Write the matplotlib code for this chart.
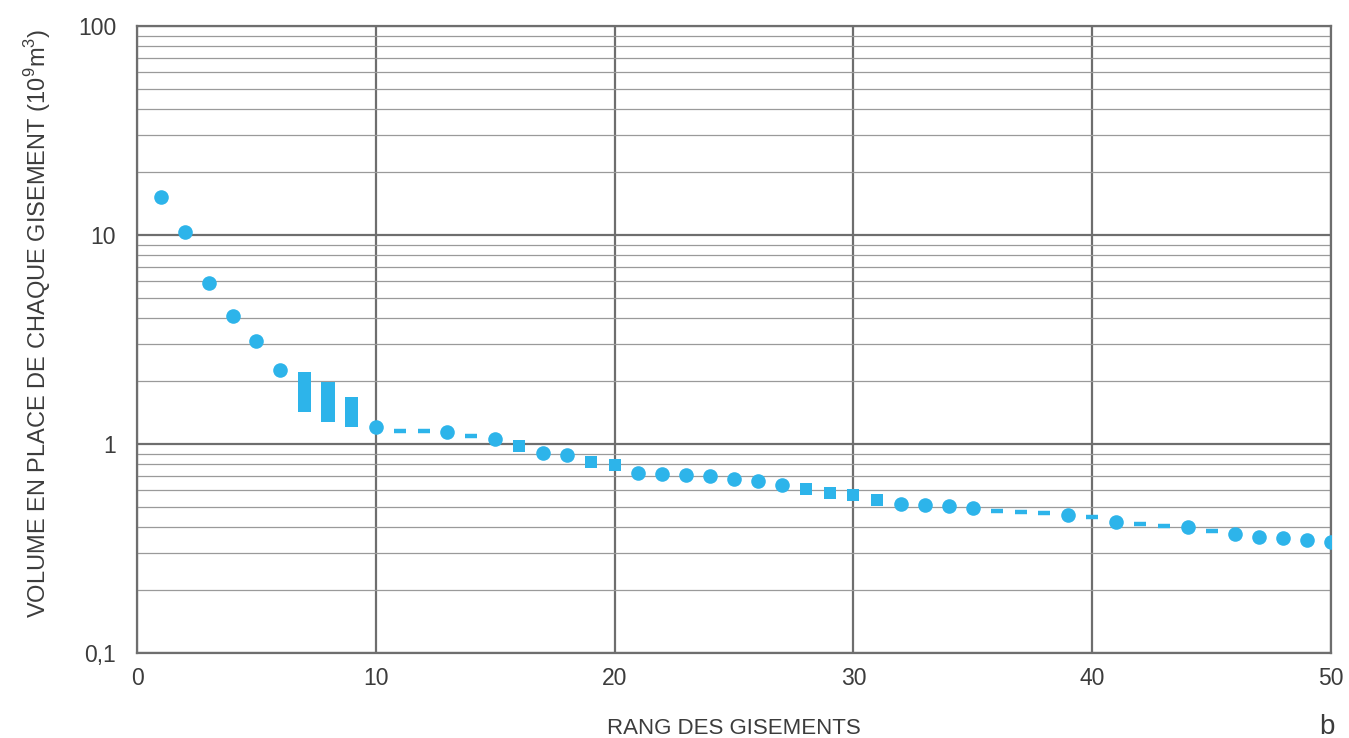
import matplotlib
matplotlib.use('Agg')
import matplotlib.pyplot as plt
from matplotlib.ticker import FixedLocator, LogLocator, NullFormatter

# police proche de l'original (Helvetica)
plt.rcParams['font.family'] = ['Liberation Sans', 'DejaVu Sans']
plt.rcParams['mathtext.fontset'] = 'custom'
plt.rcParams['mathtext.rm'] = 'Liberation Sans'

# gisements connus (ronds)
rang_ronds = [1, 2, 3, 4, 5, 6, 10, 13, 15, 17, 18, 21, 22, 23, 24, 25, 26, 27,
              32, 33, 34, 35, 39, 41, 44, 46, 47, 48, 49, 50]
vol_ronds = [15.2, 10.3, 5.9, 4.1, 3.1, 2.26, 1.2, 1.14, 1.06, 0.91, 0.89, 0.73,
             0.72, 0.71, 0.705, 0.68, 0.665, 0.64, 0.515, 0.51, 0.505, 0.496,
             0.456, 0.424, 0.40, 0.37, 0.357, 0.356, 0.347, 0.338]

# carrés
rang_carres = [16, 19, 20, 28, 29, 30, 31]
vol_carres = [0.98, 0.82, 0.79, 0.61, 0.585, 0.57, 0.54]

# tirets
rang_tirets = [11, 12, 14, 36, 37, 38, 40, 42, 43, 45]
vol_tirets = [1.16, 1.15, 1.09, 0.476, 0.471, 0.468, 0.445, 0.413, 0.407, 0.384]

# fourchettes (barres)
rang_barres = [7, 8, 9]
vol_bas = [1.43, 1.28, 1.2]
vol_haut = [2.2, 1.98, 1.67]

bleu = '#2db4ea'
gris = '#6e6e6e'
texte = '#3c3c3c'

fig = plt.figure(figsize=(13.49, 7.38), dpi=100)
ax = fig.add_axes([137/1349, 1 - 653/738, (1331-137)/1349, (653-26)/738])

ax.set_yscale('log')
ax.set_xlim(0, 50)
ax.set_ylim(0.1, 100)

# grille
ax.yaxis.set_major_locator(FixedLocator([0.1, 1, 10, 100]))
ax.yaxis.set_minor_locator(LogLocator(base=10, subs=range(2, 10)))
ax.yaxis.set_minor_formatter(NullFormatter())
ax.set_yticklabels(['0,1', '1', '10', '100'])
ax.set_xticks([0, 10, 20, 30, 40, 50])
ax.grid(True, which='major', axis='both', color=gris, linewidth=1.6)
ax.grid(True, which='minor', axis='y', color='#9a9a9a', linewidth=0.9)
ax.set_axisbelow(True)

ax.tick_params(which='both', length=0, labelsize=16.5, colors=texte)
ax.tick_params(axis='y', pad=15)
ax.tick_params(axis='x', pad=10)
for s in ax.spines.values():
    s.set_color(gris)
    s.set_linewidth(1.6)

# données
heights = [h - b for h, b in zip(vol_haut, vol_bas)]
ax.bar(rang_barres, heights, bottom=vol_bas, width=0.55, color=bleu, zorder=3)
ax.plot(rang_ronds, vol_ronds, 'o', color=bleu, markersize=10.5, markeredgewidth=0, zorder=3)
ax.plot(rang_carres, vol_carres, 's', color=bleu, markersize=9.2, markeredgewidth=0, zorder=3)
ax.plot(rang_tirets, vol_tirets, '_', color=bleu, markersize=9, markeredgewidth=3.2, zorder=3)

ax.set_xlabel('RANG DES GISEMENTS', fontsize=16, color=texte, labelpad=20)
fig.text(38/1349, 1 - 323/738,
         r'VOLUME EN PLACE DE CHAQUE GISEMENT (10$^{\mathregular{9}}$m$^{\mathregular{3}}$)',
         rotation=90, ha='center', va='center', fontsize=17, color=texte)
fig.text(1327/1349, 1 - 727/738, 'b', ha='center', va='center', fontsize=20, color=texte)

fig.savefig('out.png', dpi=100)
